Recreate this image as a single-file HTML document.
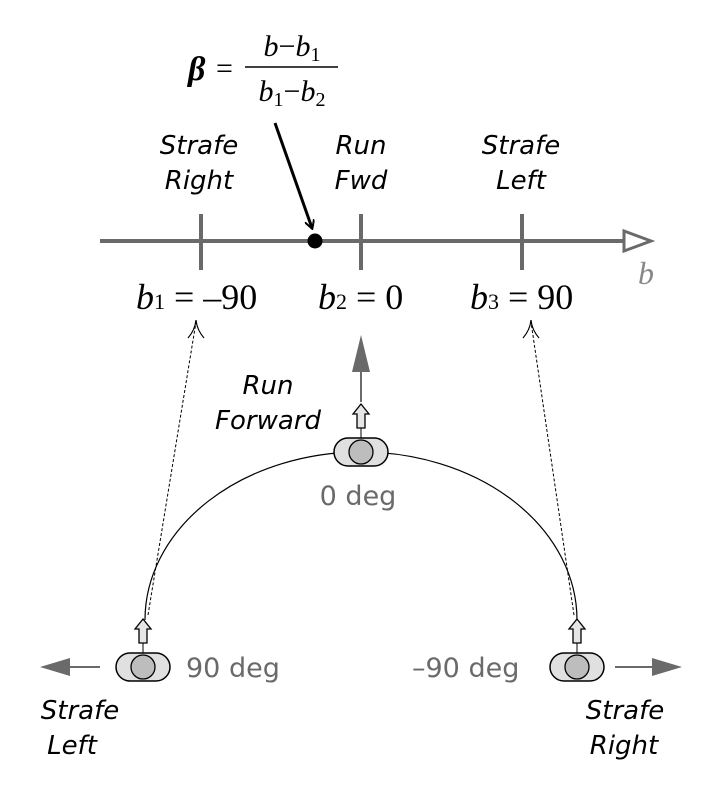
<!DOCTYPE html><html><head><style>body{margin:0;background:#fff}</style></head><body>
<svg width="712" height="794" xmlns="http://www.w3.org/2000/svg" font-family="DejaVu Sans, sans-serif">
<defs><marker id="ah" markerWidth="10" markerHeight="10" refX="8" refY="5" orient="auto" markerUnits="userSpaceOnUse"><path d="M0,0 L9,5 L0,10" fill="none" stroke="#000" stroke-width="2"/></marker>
<g id="c">
<path d="M-4,-24 V-38 H-8 L0,-48 L8,-38 H4 V-24 Z" fill="#e6e6e6" stroke="#000" stroke-width="1.3"/>
<line x1="0" y1="-24" x2="0" y2="-14" stroke="#000"/>
<rect x="-27" y="-14" width="54" height="28" rx="14" fill="#e0e0e0" stroke="#000" stroke-width="1.5"/>
<circle r="12" fill="#bdbdbd" stroke="#000" stroke-width="1.3"/></g></defs>
<text x="188" y="80" font-family="Liberation Serif,serif" font-style="italic" font-weight="bold" font-size="34">β</text>
<text x="216" y="78" font-family="Liberation Serif,serif" font-size="30">=</text>
<line x1="245" y1="67" x2="338" y2="67" stroke="#000" stroke-width="1.5"/>
<text x="292" y="56" text-anchor="middle" font-family="Liberation Serif,serif" font-size="30"><tspan font-style="italic">b</tspan>−<tspan font-style="italic">b</tspan><tspan font-size="20" dy="5">1</tspan></text>
<text x="292" y="101" text-anchor="middle" font-family="Liberation Serif,serif" font-size="30"><tspan font-style="italic">b</tspan><tspan font-size="20" dy="5">1</tspan><tspan dy="-5">−</tspan><tspan font-style="italic">b</tspan><tspan font-size="20" dy="5">2</tspan></text>
<line x1="275" y1="123" x2="312" y2="228" stroke="#000" stroke-width="3" marker-end="url(#ah)"/>
<g font-style="italic" font-size="26" text-anchor="middle">
<text x="199" y="154">Strafe</text><text x="199" y="189">Right</text>
<text x="361" y="154">Run</text><text x="361" y="189">Fwd</text>
<text x="521" y="154">Strafe</text><text x="521" y="189">Left</text>
<text x="268" y="394">Run</text><text x="268" y="429">Forward</text>
<text x="80" y="719">Strafe</text><text x="72" y="754">Left</text>
<text x="625" y="719">Strafe</text><text x="624" y="754">Right</text>
</g>
<g stroke="#6a6a6a" stroke-width="4"><line x1="100" y1="241" x2="624" y2="241"/>
<line x1="201" y1="214" x2="201" y2="270"/><line x1="361" y1="214" x2="361" y2="270"/><line x1="522" y1="214" x2="522" y2="270"/></g>
<path d="M624,231 L651,241 L624,251 Z" fill="#fff" stroke="#6a6a6a" stroke-width="3"/>
<text x="638" y="284" font-family="Liberation Serif,serif" font-style="italic" font-size="32" fill="#888">b</text>
<g font-family="Liberation Serif,serif" font-size="36">
<text x="136" y="309"><tspan font-style="italic">b</tspan><tspan font-size="22">1</tspan> = –90</text>
<text x="318" y="309"><tspan font-style="italic">b</tspan><tspan font-size="22">2</tspan> = 0</text>
<text x="470" y="309"><tspan font-style="italic">b</tspan><tspan font-size="22">3</tspan> = 90</text></g>
<circle cx="315" cy="241" r="7.5" fill="#000"/>
<g fill="none" stroke="#000" stroke-width="1.2">
<path d="M188,338 Q195,330 196,320 Q197,330 204,338"/><path d="M523,338 Q530,330 531,320 Q532,330 539,338"/>
<path d="M145,620 A216,168 0 0 1 577,620"/></g>
<g stroke="#000" stroke-width="1" stroke-dasharray="3,2"><line x1="148" y1="615" x2="196" y2="322"/><line x1="574" y1="615" x2="531" y2="322"/></g>
<path d="M352,372 L361,335 L370,372 Z" fill="#6a6a6a"/><line x1="361" y1="370" x2="361" y2="402" stroke="#6a6a6a" stroke-width="2"/>
<line x1="70" y1="667" x2="100" y2="667" stroke="#6a6a6a" stroke-width="2"/><path d="M70,658 L40,667 L70,676 Z" fill="#6a6a6a"/>
<line x1="615" y1="667" x2="655" y2="667" stroke="#6a6a6a" stroke-width="2"/><path d="M652,658 L682,667 L652,676 Z" fill="#6a6a6a"/>
<use href="#c" x="361" y="452"/><use href="#c" x="143" y="667"/><use href="#c" x="577" y="667"/>
<g fill="#6a6a6a" font-size="27"><text x="358" y="505" text-anchor="middle">0 deg</text>
<text x="186" y="677">90 deg</text><text x="412" y="677">–90 deg</text></g>
</svg></body></html>
